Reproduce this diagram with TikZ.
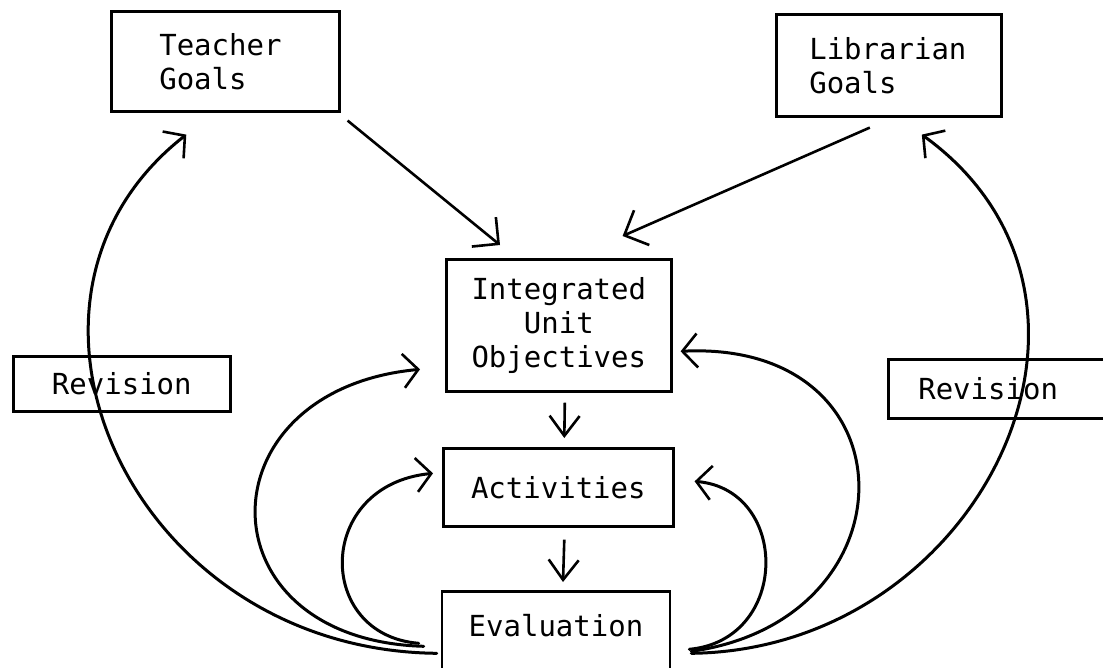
\documentclass[tikz,border=0pt]{standalone}
\usepackage{fontspec}
\setmonofont{DejaVu Sans Mono}
\usetikzlibrary{arrows.meta,calc}
\begin{document}
\begin{tikzpicture}[x=1pt,y=-1pt,
  box/.style={draw, line width=2.6pt, font=\fontsize{29}{34}\selectfont\ttfamily, inner ysep=0pt},
  flow/.style={line width=2.6pt, -{Straight Barb[length=19pt,width=38pt,line width=2.6pt]}},
  smallflow/.style={line width=2.6pt, -{Straight Barb[length=20pt,width=30pt,line width=2.6pt]}},
  loop/.style={line width=3pt, line cap=round, -{Straight Barb[length=15pt,width=34pt,line width=2.6pt]}}]
\clip (0,0) rectangle (1103,667);
% boxes
\node (teacher) [box, anchor=north west, text width=132pt, inner xsep=48pt, align=left, minimum height=100pt] at (110,10) {Teacher\\Goals};
\node (librarian) [box, anchor=north west, text width=159pt, inner xsep=33pt, align=left, minimum height=102pt] at (775,13) {Librarian\\Goals};
\node (integ) [box, anchor=north west, minimum width=225pt, minimum height=132pt, align=center] at (445,258) {Integrated\\Unit\\Objectives};
\node (act) [box, anchor=north west, minimum width=230pt, minimum height=78pt] at (442,447) {Activities};
\node (eval) [box, anchor=north, minimum width=228pt, text height=32pt, text depth=60pt, inner ysep=13pt] at (556,590) {Evaluation};
\node (revL) [box, anchor=north west, minimum width=217pt, minimum height=55pt] at (12,355) {Revision};
\node (revR) [box, anchor=north west, text width=200pt, inner xsep=30pt, align=left, minimum height=59pt] at (887,358) {Revision};
% straight connectors
\draw[flow] ($(teacher.south east)+(7,8)$) -- ($(integ.north west)+(55,-13)$);
\draw[flow] ($(librarian.south)+(-19,10)$) -- ($(integ.north east)+(-50,-22)$);
\draw[smallflow] ($(integ.south)+(6,10)$) -- ($(act.north)+(6,-9)$);
\draw[smallflow] ($(act.south)+(6,12)$) -- ($(eval.north)+(7,-8)$);
% revision loops, left
\draw[loop] ($(eval.west)+(-4,3)$) .. controls (130,650) and (-25,300) .. ($(teacher.south)+(-39,22)$);
\draw[loop] ($(eval.west)+(-17,-4)$) .. controls (200,640) and (200,390) .. ($(integ.west)+(-25,44)$);
\draw[loop] ($(eval.west)+(-22,-7)$) .. controls (315,635) and (315,485) .. ($(act.west)+(-9,-14)$);
% revision loops, right
\draw[loop] ($(eval.east)+(18,-1)$) .. controls (790,640) and (790,490) .. ($(act.east)+(20,-6)$);
\draw[loop] ($(eval.east)+(20,1)$) .. controls (916,620) and (916,340) .. ($(integ.east)+(8,26)$);
\draw[loop] ($(eval.east)+(20,3)$) .. controls (980,650) and (1150,300) .. ($(librarian.south)+(33,17)$);
\end{tikzpicture}
\end{document}
